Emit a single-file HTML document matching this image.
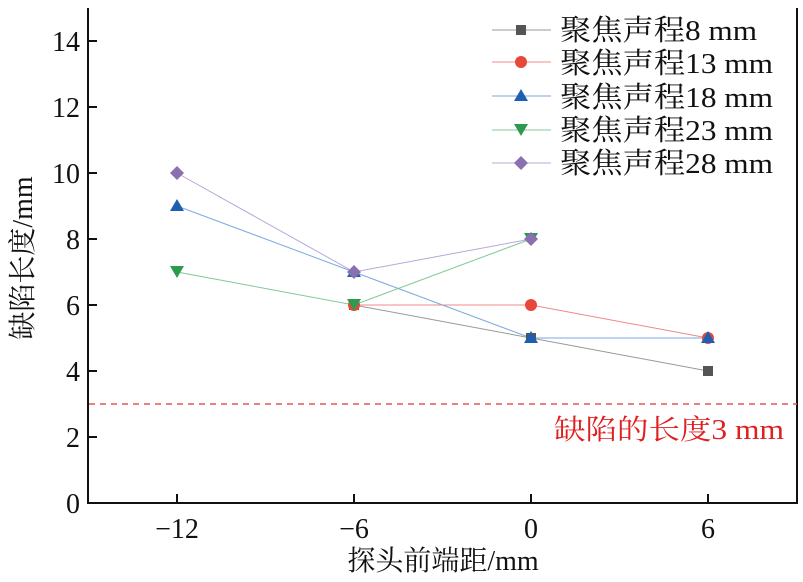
<!DOCTYPE html><html><head><meta charset="utf-8"><style>body{margin:0;background:#fff}svg text{font-family:"Liberation Serif","Noto Serif CJK SC",serif;fill:#111}</style></head><body>
<svg width="803" height="577" viewBox="0 0 803 577" xmlns="http://www.w3.org/2000/svg">
<g stroke="#111" stroke-width="2" fill="none">
<path d="M88,8 V503 H797 V8"/>
<path d="M88,437h9M88,371h9M88,305h9M88,239h9M88,173h9M88,107h9M88,41h9"/>
<path d="M177,503v-9M354,503v-9M531,503v-9M708,503v-9"/>
</g>
<g font-size="28" text-anchor="end">
<text x="80" y="513">0</text><text x="80" y="447">2</text><text x="80" y="381">4</text><text x="80" y="315">6</text><text x="80" y="249">8</text><text x="80" y="183">10</text><text x="80" y="117">12</text><text x="80" y="51">14</text>
</g>
<g font-size="28" text-anchor="middle">
<text x="177" y="538">−12</text><text x="354" y="538">−6</text><text x="531" y="538">0</text><text x="708" y="538">6</text>
<text x="443" y="570">探头前端距/mm</text>
<text transform="translate(32,258) rotate(-90)">缺陷长度/mm</text>
</g>
<line x1="89" y1="404" x2="797" y2="404" stroke="#e85555" stroke-width="1.5" stroke-dasharray="6,5"/>
<text x="554" y="439" font-size="28" textLength="230" lengthAdjust="spacingAndGlyphs" style="fill:#e02020">缺陷的长度3 mm</text>
<g fill="none" stroke-width="1">
<polyline points="354,305 531,338 708,371" stroke="#999"/>
<polyline points="354,305 531,305 708,338" stroke="#f08888"/>
<polyline points="177,206 354,272 531,338 708,338" stroke="#7aaae0"/>
<polyline points="177,272 354,305 531,239" stroke="#80c898"/>
<polyline points="177,173 354,272 531,239" stroke="#b8a8d8"/>
</g>
<g>
<rect x="349" y="300" width="10" height="10" fill="#555"/><rect x="526" y="333" width="10" height="10" fill="#555"/><rect x="703" y="366" width="10" height="10" fill="#555"/>
<circle cx="354" cy="305" r="6" fill="#e8483a"/><circle cx="531" cy="305" r="6" fill="#e8483a"/><circle cx="708" cy="338" r="6" fill="#e8483a"/>
<g fill="#1f5fb0"><path d="M177,199l7,12h-14z"/><path d="M354,265l7,12h-14z"/><path d="M531,331l7,12h-14z"/><path d="M708,331l7,12h-14z"/></g>
<g fill="#2e9a50"><path d="M177,278l7,-12h-14z"/><path d="M354,311l7,-12h-14z"/><path d="M531,245l7,-12h-14z"/></g>
<g fill="#8a70b0"><path d="M177,166l7,7-7,7-7-7z"/><path d="M354,265l7,7-7,7-7-7z"/><path d="M531,232l7,7-7,7-7-7z"/></g>
</g>
<g stroke-width="1">
<line x1="492" y1="30" x2="551" y2="30" stroke="#999"/><rect x="516" y="25" width="10" height="10" fill="#555"/>
<line x1="492" y1="62" x2="551" y2="62" stroke="#f08888"/><circle cx="521" cy="62" r="6" fill="#e8483a"/>
<line x1="492" y1="96" x2="551" y2="96" stroke="#7aaae0"/><path d="M521,89l7,12h-14z" fill="#1f5fb0"/>
<line x1="492" y1="130" x2="551" y2="130" stroke="#80c898"/><path d="M521,136l7,-12h-14z" fill="#2e9a50"/>
<line x1="492" y1="163" x2="551" y2="163" stroke="#b8a8d8"/><path d="M521,156l7,7-7,7-7-7z" fill="#8a70b0"/>
</g>
<g font-size="29">
<text x="560" y="40" textLength="197" lengthAdjust="spacingAndGlyphs">聚焦声程8 mm</text><text x="560" y="73" textLength="213" lengthAdjust="spacingAndGlyphs">聚焦声程13 mm</text><text x="560" y="107" textLength="213" lengthAdjust="spacingAndGlyphs">聚焦声程18 mm</text><text x="560" y="140" textLength="213" lengthAdjust="spacingAndGlyphs">聚焦声程23 mm</text><text x="560" y="173" textLength="213" lengthAdjust="spacingAndGlyphs">聚焦声程28 mm</text>
</g>
</svg></body></html>
